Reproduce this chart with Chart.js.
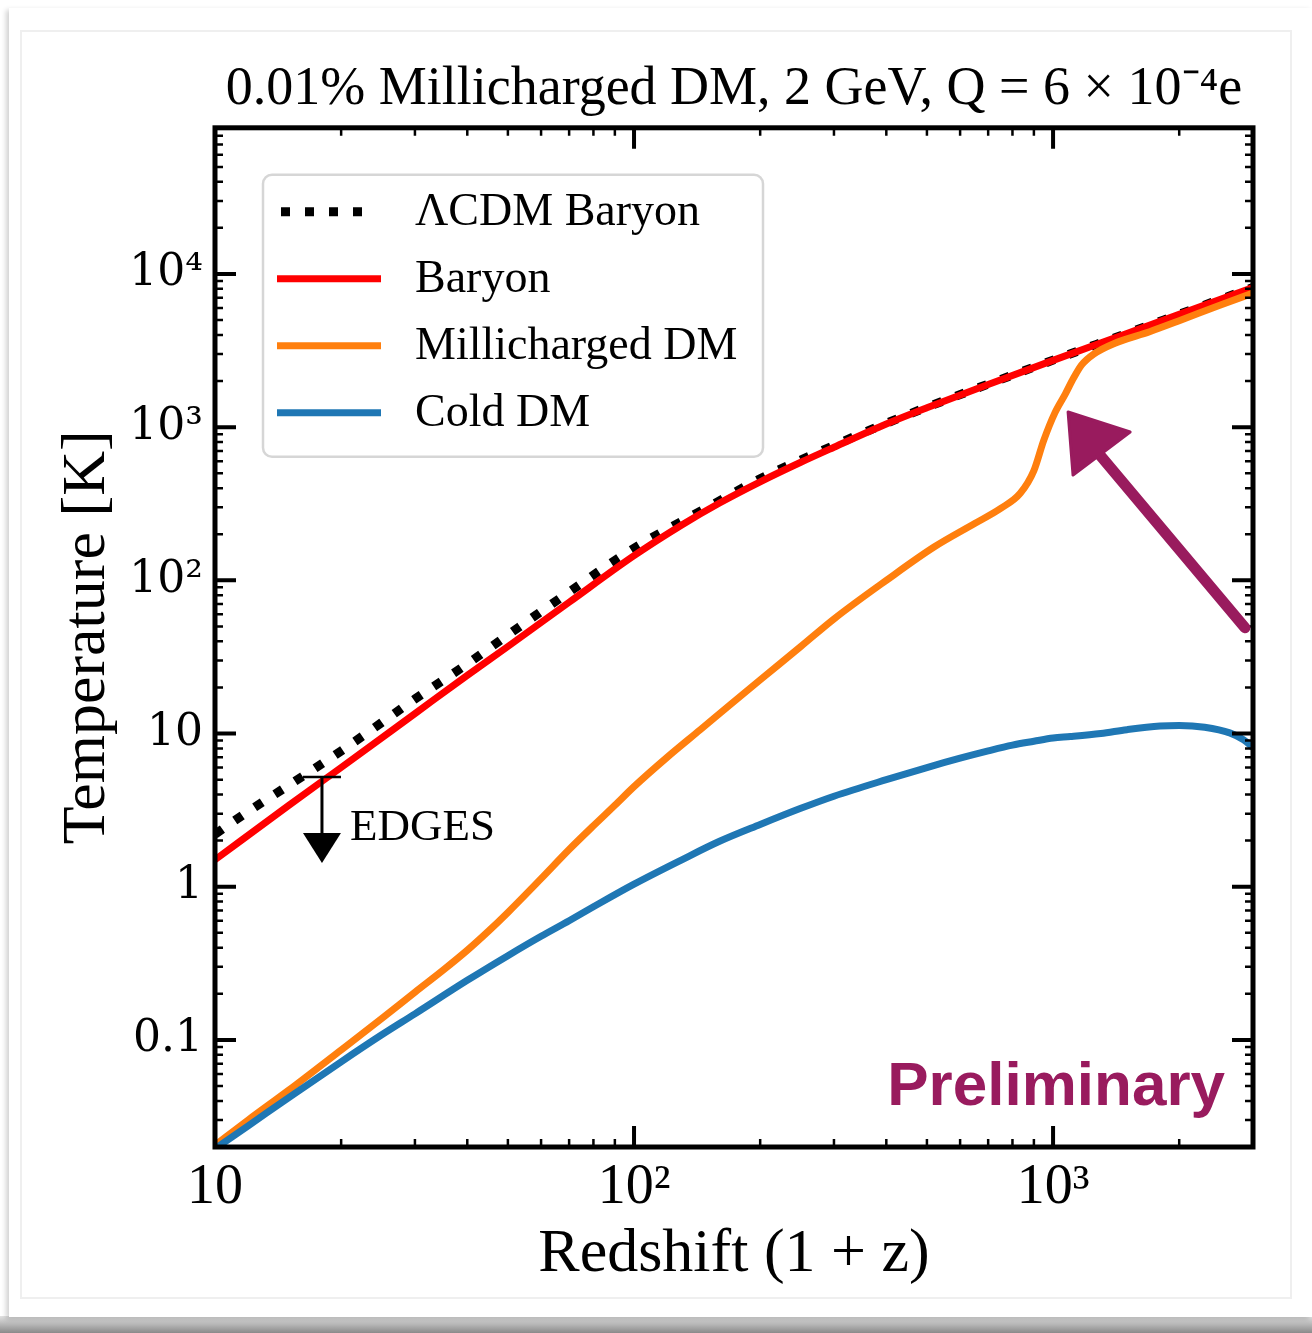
<!DOCTYPE html>
<html><head><meta charset="utf-8">
<script src="https://cdn.jsdelivr.net/npm/chart.js@4.4.1/dist/chart.umd.min.js"></script>
<style>
html,body{margin:0;padding:0;background:#fff;width:1312px;height:1333px;overflow:hidden;}
#shadow{position:absolute;left:0;top:1316px;width:1312px;height:17px;background:linear-gradient(to bottom,#e2e2e2,#8a8a8a);}
#card{position:absolute;left:9px;top:8px;width:1303px;height:1309px;background:#fff;box-shadow:-3px 2px 5px rgba(0,0,0,0.18);}
#inner{position:absolute;left:20px;top:30px;width:1268px;height:1265px;border:2px solid #efefef;}
#wrap{position:absolute;left:0;top:0;width:1312px;height:1333px;}
</style></head>
<body>
<div id="shadow"></div><div id="card"></div><div id="inner"></div>
<div id="wrap"><canvas id="c" width="1312" height="1333"></canvas></div>
<script>
// ---- data (1+z, temperature in K) ----
const lcdmZ = [10, 12, 15, 20, 25, 30, 40, 50, 70, 100, 150, 200, 300, 400, 500, 700, 1000, 1500, 2000, 3000];
const lcdmT = [2.2, 3.1, 4.6, 7.7, 11.8, 16.8, 28.5, 44, 84, 162, 300, 460, 760, 1060, 1350, 1910, 2740, 4090, 5450, 8170];

const baryonZ = [10, 15, 20, 30, 40, 50, 70, 100, 130, 160, 200, 250, 300, 400, 500, 700, 1000, 1500, 2000, 3000];
const baryonT = [1.5, 3.4, 6.0, 13.5, 24, 37, 72, 145, 230, 320, 440, 590, 740, 1050, 1340, 1900, 2730, 4090, 5450, 8170];

const mcdmZ = [10, 12, 15, 20, 25, 30, 35, 40, 45, 50, 60, 70, 80, 90, 100, 120, 144, 170, 200, 250, 300, 400, 520, 650, 750, 835, 900, 950, 1010, 1070, 1120, 1170, 1250, 1400, 1700, 2000, 2500, 3000];
const mcdmT = [0.0205, 0.030, 0.047, 0.086, 0.138, 0.205, 0.285, 0.385, 0.515, 0.68, 1.13, 1.75, 2.5, 3.4, 4.5, 7.0, 10.6, 15.5, 22.4, 37, 56, 100, 165, 235, 295, 370, 520, 820, 1240, 1650, 2100, 2550, 3000, 3520, 4200, 4950, 6250, 7500];

const cdmZ = [10, 12, 15, 20, 25, 30, 40, 50, 60, 70, 80, 100, 130, 160, 200, 250, 300, 400, 500, 600, 700, 800, 900, 1000, 1100, 1300, 1500, 1800, 2000, 2300, 2640, 2850, 3000];
const cdmT = [0.0195, 0.0275, 0.042, 0.072, 0.108, 0.148, 0.245, 0.355, 0.475, 0.60, 0.74, 1.04, 1.5, 1.98, 2.55, 3.25, 3.9, 5.0, 6.0, 6.9, 7.7, 8.4, 8.9, 9.35, 9.55, 10.0, 10.6, 11.2, 11.3, 11.0, 10.1, 9.1, 8.1];

const seriesLabels = ['\u039BCDM Baryon', 'Baryon', 'Millicharged DM', 'Cold DM'];
const xMajorTicks = [10, 100, 1000];
const yMajorTicks = [0.1, 1, 10, 100, 1000, 10000];

// EDGES upper limit (1+z, T)
const edgesZ = 18;
const edgesT = 5.2;

// hand-drawn arrow annotation (1+z, T)
const arrowTip = [1086, 1257];
const arrowWingA = [1527, 930];
const arrowWingB = [1116, 487];
const arrowTail = [2871, 49];

const pts = (xs, ys) => xs.map((x, i) => ({x: x, y: ys[i]}));
const SUP = {'0':'\u2070','1':'\u00B9','2':'\u00B2','3':'\u00B3','4':'\u2074','5':'\u2075','6':'\u2076','7':'\u2077','8':'\u2078','9':'\u2079','-':'\u207B'};
function logLabel(v, plainMax) {
  const l = Math.log10(v);
  const r = Math.round(l);
  if (Math.abs(l - r) > 1e-6) return '';
  if (r <= plainMax) return String(Number(Math.pow(10, r).toPrecision(3)));
  return '10' + String(r).split('').map(c => SUP[c]).join('');
}

const PURPLE = '#991b5e';

const framePlugin = {
  id: 'frameTicks',
  afterDatasetsDraw(chart) {
    const {ctx, chartArea: a, scales: {x, y}} = chart;
    ctx.save();
    ctx.strokeStyle = '#000';
    ctx.lineCap = 'butt';
    const xMin = x.min, xMax = x.max, yMin = y.min, yMax = y.max;
    const xminor = [], yminor = [];
    for (let d = -3; d <= 5; d++) for (let m = 2; m <= 9; m++) {
      const v = m * Math.pow(10, d);
      if (v > xMin * 1.0001 && v < xMax * 0.9999) xminor.push(v);
      if (v > yMin * 1.0001 && v < yMax * 0.9999) yminor.push(v);
    }
    function xt(v, len, w) {
      const p = x.getPixelForValue(v);
      ctx.lineWidth = w;
      ctx.beginPath();
      ctx.moveTo(p, a.bottom); ctx.lineTo(p, a.bottom - len);
      ctx.moveTo(p, a.top); ctx.lineTo(p, a.top + len);
      ctx.stroke();
    }
    function yt(v, len, w) {
      const p = y.getPixelForValue(v);
      ctx.lineWidth = w;
      ctx.beginPath();
      ctx.moveTo(a.left, p); ctx.lineTo(a.left + len, p);
      ctx.moveTo(a.right, p); ctx.lineTo(a.right - len, p);
      ctx.stroke();
    }
    xminor.forEach(v => xt(v, 8, 2.5));
    yminor.forEach(v => yt(v, 8, 2.5));
    xMajorTicks.forEach(v => xt(v, 21, 4));
    yMajorTicks.forEach(v => yt(v, 21, 4));
    ctx.lineWidth = 5;
    ctx.strokeRect(a.left, a.top, a.right - a.left, a.bottom - a.top);
    ctx.restore();
  }
};

const annotPlugin = {
  id: 'annots',
  afterDatasetsDraw(chart) {
    const {ctx, chartArea: a, scales: {x, y}} = chart;
    ctx.save();
    // EDGES upper limit
    const ex = x.getPixelForValue(edgesZ), ey = y.getPixelForValue(edgesT);
    ctx.strokeStyle = '#000'; ctx.fillStyle = '#000';
    ctx.lineWidth = 2.5;
    ctx.beginPath(); ctx.moveTo(ex - 19, ey); ctx.lineTo(ex + 19, ey); ctx.stroke();
    ctx.lineWidth = 3;
    ctx.beginPath(); ctx.moveTo(ex, ey); ctx.lineTo(ex, ey + 58); ctx.stroke();
    ctx.beginPath(); ctx.moveTo(ex - 19, ey + 56); ctx.lineTo(ex + 19, ey + 56); ctx.lineTo(ex, ey + 86); ctx.closePath(); ctx.fill();
    ctx.font = '45px "Liberation Serif"';
    ctx.textAlign = 'left'; ctx.textBaseline = 'alphabetic';
    ctx.fillText('EDGES', ex + 28, ey + 63);

    // Preliminary
    ctx.fillStyle = PURPLE;
    ctx.font = 'bold 62px "Liberation Sans"';
    ctx.textAlign = 'right';
    ctx.fillText('Preliminary', a.right - 28, a.bottom - 42);

    // hand-drawn arrow
    const P = p => [x.getPixelForValue(p[0]), y.getPixelForValue(p[1])];
    const t = P(arrowTip), wa = P(arrowWingA), wb = P(arrowWingB), tl = P(arrowTail);
    const mid = [(wa[0] + wb[0]) / 2 - 8, (wa[1] + wb[1]) / 2 - 6];
    ctx.strokeStyle = PURPLE;
    ctx.lineWidth = 11; ctx.lineCap = 'round';
    ctx.beginPath(); ctx.moveTo(tl[0], tl[1]); ctx.lineTo(mid[0], mid[1]); ctx.stroke();
    ctx.beginPath(); ctx.moveTo(t[0], t[1]); ctx.lineTo(wa[0], wa[1]); ctx.lineTo(wb[0], wb[1]); ctx.closePath(); ctx.fill();
    ctx.lineWidth = 3; ctx.lineJoin = 'round'; ctx.stroke();
    ctx.restore();
  }
};

const legendPlugin = {
  id: 'boxLegend',
  afterDraw(chart) {
    const {ctx, chartArea: a} = chart;
    const L = a.left + 48, T = a.top + 47, W = 500, H = 282, r = 9;
    ctx.save();
    ctx.beginPath();
    ctx.moveTo(L + r, T); ctx.lineTo(L + W - r, T); ctx.arcTo(L + W, T, L + W, T + r, r);
    ctx.lineTo(L + W, T + H - r); ctx.arcTo(L + W, T + H, L + W - r, T + H, r);
    ctx.lineTo(L + r, T + H); ctx.arcTo(L, T + H, L, T + H - r, r);
    ctx.lineTo(L, T + r); ctx.arcTo(L, T, L + r, T, r); ctx.closePath();
    ctx.fillStyle = 'rgba(255,255,255,0.85)'; ctx.fill();
    ctx.strokeStyle = '#d6d6d6'; ctx.lineWidth = 2.5; ctx.stroke();
    chart.data.datasets.forEach((ds, i) => {
      const yy = T + 37 + i * 67;
      ctx.strokeStyle = ds.borderColor;
      ctx.lineWidth = ds.borderWidth;
      ctx.lineCap = 'butt';
      ctx.setLineDash(ds.borderDash || []);
      ctx.beginPath();
      if (ds.borderDash) { ctx.moveTo(L + 18, yy); ctx.lineTo(L + 104, yy); }
      else { ctx.moveTo(L + 14, yy); ctx.lineTo(L + 118, yy); }
      ctx.stroke();
      ctx.setLineDash([]);
      ctx.fillStyle = '#000';
      ctx.font = '46px "Liberation Serif"';
      ctx.textAlign = 'left'; ctx.textBaseline = 'middle';
      ctx.fillText(ds.label, L + 152, yy + 1);
    });
    ctx.restore();
  }
};

new Chart(document.getElementById('c'), {
  type: 'line',
  data: {
    datasets: [
      {label: seriesLabels[0], data: pts(lcdmZ, lcdmT), borderColor: '#000', borderWidth: 9, borderDash: [9, 15], order: 4},
      {label: seriesLabels[1], data: pts(baryonZ, baryonT), borderColor: '#ff0000', borderWidth: 7, order: 3},
      {label: seriesLabels[2], data: pts(mcdmZ, mcdmT), borderColor: '#ff7f0e', borderWidth: 7, order: 2},
      {label: seriesLabels[3], data: pts(cdmZ, cdmT), borderColor: '#1f77b4', borderWidth: 7, order: 1}
    ]
  },
  options: {
    responsive: false,
    animation: false,
    layout: {padding: {left: 0, right: 59, top: 0, bottom: 0}},
    elements: {point: {radius: 0}, line: {cubicInterpolationMode: 'monotone', fill: false, borderCapStyle: 'butt'}},
    plugins: {
      legend: {display: false},
      tooltip: {enabled: false},
      title: {
        display: true, fullSize: false,
        text: '0.01% Millicharged DM, 2 GeV, Q = 6 \u00D7 10\u207B\u2074e',
        color: '#000',
        font: {family: 'Liberation Serif', size: 54, weight: 'normal'},
        padding: {top: 57, bottom: 6}
      }
    },
    scales: {
      x: {
        type: 'logarithmic', position: 'bottom', min: 10, max: 3000,
        grid: {display: false, drawTicks: false},
        border: {display: false},
        ticks: {autoSkip: false, maxRotation: 0, minRotation: 0, padding: 8, color: '#000',
                font: {family: 'Liberation Serif', size: 56},
                callback: v => logLabel(v, 1)},
        title: {display: true, text: 'Redshift (1 + z)', color: '#000',
                font: {family: 'Liberation Serif', size: 62}, padding: {top: 0, bottom: 41}},
        afterFit(s) { s.height = 186; }
      },
      y: {
        type: 'logarithmic', position: 'left', min: 0.02, max: 90000,
        grid: {display: false, drawTicks: false},
        border: {display: false},
        ticks: {autoSkip: false, padding: 12, color: '#000',
                font: {family: 'DejaVu Serif', size: 44},
                callback: v => logLabel(v, 1)},
        title: {display: true, text: 'Temperature [K]', color: '#000',
                font: {family: 'Liberation Serif', size: 62}, padding: {top: 51, bottom: 0}},
        afterFit(s) { s.width = 215; }
      }
    }
  },
  plugins: [framePlugin, annotPlugin, legendPlugin]
});
</script>
</body></html>
